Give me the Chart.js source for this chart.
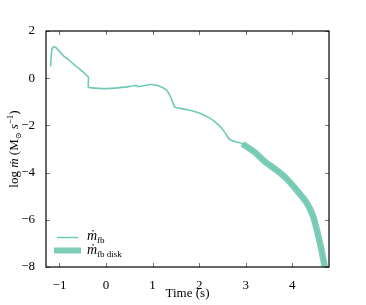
<!DOCTYPE html>
<html>
<head>
<meta charset="utf-8">
<script src="https://cdn.jsdelivr.net/npm/chart.js@4.4.1/dist/chart.umd.min.js"></script>
<style>
  html, body { margin: 0; padding: 0; background: #fff; }
  #wrap { width: 366px; height: 305px; }
</style>
</head>
<body>
<div id="wrap"><canvas id="c" width="366" height="305"></canvas></div>
<script>
// fallback accretion rate (log)
const fbTime = [-1.19, -1.17, -1.15, -1.12, -1.08, -1.04, -0.96, -0.89, -0.84, -0.7, -0.56, -0.46, -0.38,
  -0.38, -0.3, -0.15, 0.0, 0.2, 0.4, 0.66, 0.68, 0.8, 0.95, 1.1, 1.2, 1.3, 1.4, 1.48,
  1.6, 1.75, 1.88, 2.05, 2.23, 2.36, 2.48, 2.58, 2.63, 2.7, 2.8, 2.93,
  3.2, 3.42, 3.7, 3.9, 4.1, 4.3, 4.45, 4.55, 4.62, 4.7, 4.74];
const fbLog = [0.5, 1.15, 1.28, 1.33, 1.3, 1.22, 1.05, 0.9, 0.84, 0.6, 0.37, 0.2, 0.04,
  -0.38, -0.41, -0.43, -0.44, -0.42, -0.38, -0.31, -0.36, -0.32, -0.27, -0.31, -0.38, -0.5, -0.85, -1.23,
  -1.28, -1.34, -1.4, -1.52, -1.69, -1.88, -2.11, -2.38, -2.54, -2.64, -2.7, -2.78,
  -3.15, -3.55, -3.95, -4.3, -4.75, -5.25, -5.85, -6.6, -7.2, -8.0, -8.5];

// disk-side accretion rate (log)
const diskTime = [2.93, 3.2, 3.42, 3.7, 3.9, 4.1, 4.3, 4.45, 4.55, 4.62, 4.7, 4.74];
const diskLog = [-2.78, -3.15, -3.55, -3.95, -4.3, -4.75, -5.25, -5.85, -6.6, -7.2, -8.0, -8.5];

const xTicks = [-1, 0, 1, 2, 3, 4];
const yTicks = [-8, -6, -4, -2, 0, 2];

const thinColor = '#6fcab5';
const thickColor = 'rgba(72,184,152,0.7)';
const serif = '"Liberation Serif", "DejaVu Serif", serif';

const toPts = (xs, ys) => xs.map((x, i) => ({ x: x, y: ys[i] }));
const minus = v => String(v).replace('-', '\u2212');

// draws a list of [text, font, dy] pieces in a row, returns total width
function drawRun(ctx, parts, x, y, measureOnly) {
  let cx = x;
  parts.forEach(p => {
    ctx.font = p[1];
    if (!measureOnly) ctx.fillText(p[0], cx, y + (p[2] || 0));
    cx += ctx.measureText(p[0]).width;
  });
  return cx - x;
}

const decor = {
  id: 'decor',
  afterDraw(chart) {
    const ctx = chart.ctx;
    const a = chart.chartArea;
    const xs = chart.scales.x, ys = chart.scales.y;
    ctx.save();

    // inside ticks on all four sides
    ctx.strokeStyle = '#777';
    ctx.lineWidth = 1;
    ctx.beginPath();
    xTicks.forEach(v => {
      const px = Math.round(xs.getPixelForValue(v)) + 0.5;
      ctx.moveTo(px, a.bottom); ctx.lineTo(px, a.bottom - 4);
      ctx.moveTo(px, a.top); ctx.lineTo(px, a.top + 4);
    });
    yTicks.forEach(v => {
      const py = Math.round(ys.getPixelForValue(v)) + 0.5;
      ctx.moveTo(a.left, py); ctx.lineTo(a.left + 4, py);
      ctx.moveTo(a.right, py); ctx.lineTo(a.right - 4, py);
    });
    ctx.stroke();

    // frame
    ctx.strokeStyle = '#000';
    ctx.lineWidth = 1.2;
    ctx.strokeRect(a.left, a.top, a.right - a.left, a.bottom - a.top);

    ctx.fillStyle = '#000';
    ctx.textBaseline = 'alphabetic';

    // x title
    ctx.font = '13px ' + serif;
    ctx.textAlign = 'center';
    ctx.fillText('Time (s)', (a.left + a.right) / 2, 297);

    // y title, rotated
    ctx.textAlign = 'left';
    const yParts = [
      ['log ', '13px ' + serif, 0],
      ['\u1E41', 'italic 13px ' + serif, 0],
      [' (M', '13px ' + serif, 0],
      ['\u2299', '8px ' + serif, 3],
      [' ', '13px ' + serif, 0],
      ['s', 'italic 13px ' + serif, 0],
      ['\u22121', '9px ' + serif, -5],
      [')', '13px ' + serif, 0]
    ];
    const w = drawRun(ctx, yParts, 0, 0, true);
    ctx.save();
    ctx.translate(18, (a.top + a.bottom) / 2);
    ctx.rotate(-Math.PI / 2);
    drawRun(ctx, yParts, -w / 2, 0, false);
    ctx.restore();

    // legend
    ctx.strokeStyle = thinColor;
    ctx.lineWidth = 1.5;
    ctx.beginPath();
    ctx.moveTo(57, 237.5); ctx.lineTo(78, 237.5);
    ctx.stroke();
    ctx.fillStyle = thickColor;
    ctx.fillRect(54, 247.5, 27, 6);
    ctx.fillStyle = '#000';
    drawRun(ctx, [['\u1E41', 'italic 14px ' + serif, 0], ['fb', '9px ' + serif, 3]], 87, 240, false);
    drawRun(ctx, [['\u1E41', 'italic 14px ' + serif, 0], ['fb disk', '9px ' + serif, 3]], 87, 253.5, false);

    ctx.restore();
  }
};

new Chart(document.getElementById('c'), {
  type: 'scatter',
  data: {
    datasets: [
      {
        label: 'fb',
        data: toPts(fbTime, fbLog),
        showLine: true,
        borderColor: thinColor,
        borderWidth: 1.6,
        pointRadius: 0,
        tension: 0.2,
        clip: 0
      },
      {
        label: 'fb disk',
        data: toPts(diskTime, diskLog),
        showLine: true,
        borderColor: thickColor,
        borderWidth: 6.5,
        pointRadius: 0,
        tension: 0.2,
        borderCapStyle: 'butt',
        clip: 0
      }
    ]
  },
  options: {
    responsive: false,
    animation: false,
    layout: { padding: { top: 31, right: 37, left: 0, bottom: 0 } },
    plugins: { legend: { display: false }, tooltip: { enabled: false } },
    scales: {
      x: {
        type: 'linear',
        min: -1.29,
        max: 4.79,
        afterFit: s => { s.height = 38; },
        afterBuildTicks: s => { s.ticks = xTicks.map(v => ({ value: v })); },
        grid: { display: false },
        border: { display: false },
        ticks: {
          color: '#000',
          padding: 3,
          maxRotation: 0,
          font: { family: serif, size: 13 },
          callback: v => minus(v)
        }
      },
      y: {
        type: 'linear',
        min: -8,
        max: 2,
        afterFit: s => { s.width = 46; },
        afterBuildTicks: s => { s.ticks = yTicks.map(v => ({ value: v })); },
        grid: { display: false },
        border: { display: false },
        ticks: {
          color: '#000',
          padding: 3,
          font: { family: serif, size: 13 },
          callback: v => minus(v)
        }
      }
    }
  },
  plugins: [decor]
});
</script>
</body>
</html>
